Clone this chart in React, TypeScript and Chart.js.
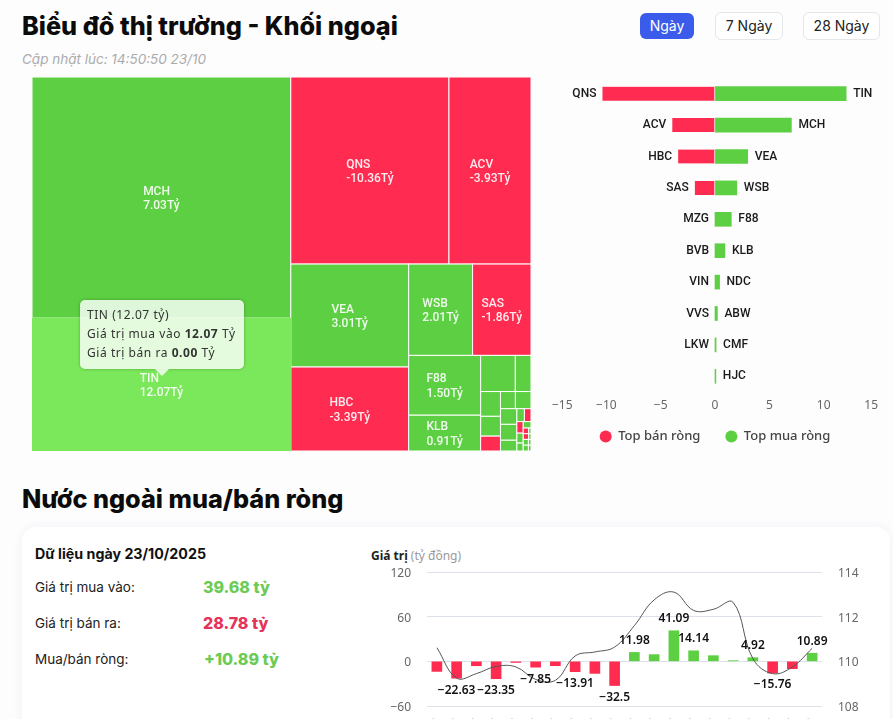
import React, { useEffect, useRef } from "react";
import { Chart, registerables } from "chart.js";

Chart.register(...registerables);

const GREEN = "#5DCF43";
const RED = "#FF2B50";
const HOVER_GREEN = "#7AE85A";

// Treemap: labelled names, displayed net values, and the cell sizes
const cellNames = ["MCH", "TIN", "QNS", "ACV", "VEA", "HBC", "WSB", "SAS", "F88", "KLB"];
const cellNet = [
  7.03, 12.07, -10.36, -3.93, 3.01, -3.39, 2.01, -1.86, 1.5, 0.91,
  0.45, 0.3, 0.27, 0.24, -0.2, 0.18, 0.17, 0.16, 0.15, 0.12,
  0.1, -0.1, -0.09, 0.08, 0.07, 0.06, -0.06, 0.03, -0.05, 0.03, 0.03, 0.02, 0.03, 0.02,
];
const cellSizes = [
  62.2, 34.3, 29.5, 15.3, 12.1, 9.87, 5.82, 5.32, 4.29, 2.57,
  1.25, 0.565, 0.49, 0.392, 0.294, 0.255, 0.267, 0.256, 0.26, 0.176,
  0.097, 0.085, 0.073, 0.063, 0.05, 0.05, 0.031, 0.013, 0.031, 0.013, 0.03, 0.015, 0.03, 0.015,
];
// How many cells each strip of the treemap holds, and how it is laid: c = column, r = row
const stripCounts = [2, 2, 2, 2, 2, 2, 3, 2, 3, 2, 3, 1, 2, 2, 2, 2];
const stripKinds = ["c", "r", "c", "r", "c", "r", "c", "r", "c", "r", "c", "r", "r", "r", "r", "r"];
const hoveredCell = "TIN";

// Butterfly bars
const sellNames = ["QNS", "ACV", "HBC", "SAS", "MZG", "BVB", "VIN", "VVS", "LKW", ""];
const sellValues = [-10.36, -3.93, -3.39, -1.86, 0, 0, 0, 0, 0, 0];
const buyNames = ["TIN", "MCH", "VEA", "WSB", "F88", "KLB", "NDC", "ABW", "CMF", "HJC"];
const buyValues = [12.07, 7.03, 3.01, 2.01, 1.5, 0.91, 0.42, 0.22, 0.1, 0.08];

// Net buy/sell over time
const days = [
  "26/09", "29/09", "30/09", "01/10", "02/10", "03/10", "06/10", "07/10", "08/10", "09/10",
  "10/10", "13/10", "14/10", "15/10", "16/10", "17/10", "20/10", "21/10", "22/10", "23/10",
];
const netValues = [
  -13.5, -22.63, -5.9, -23.35, -1.5, -7.85, -5.8, -13.91, -16.2, -32.5,
  11.98, 9, 41.09, 14.14, 7.6, 0.9, 4.92, -15.76, -9.9, 10.89,
];
const netLabelled = [
  false, true, false, true, false, true, false, true, false, true,
  true, false, true, true, false, false, true, true, false, true,
];
const indexValues = [
  110.61, 109.25, 109.45, 109.77, 109.75, 109.19, 109.15, 110.24, 110.42, 110.64,
  111.6, 112.75, 113.1, 112.28, 112.33, 112.64, 110.12, 109.45, 109.75, 110.58,
];

function layoutCells() {
  let x0 = 0, y0 = 0, x1 = 1, y1 = 1;
  const total = cellSizes.reduce((a, b) => a + b, 0);
  let remaining = total;
  let i = 0;
  const out: any[] = [];
  stripCounts.forEach((count, s) => {
    const slice = cellSizes.slice(i, i + count);
    const sum = slice.reduce((a, b) => a + b, 0);
    const frac = sum / remaining;
    if (stripKinds[s] === "c") {
      const xe = x0 + (x1 - x0) * frac;
      let y = y0;
      slice.forEach((v, k) => {
        const ye = y + (y1 - y0) * (v / sum);
        out.push({ x: x0, y, xe, ye, idx: i + k });
        y = ye;
      });
      x0 = xe;
    } else {
      const ye = y0 + (y1 - y0) * frac;
      let x = x0;
      slice.forEach((v, k) => {
        const xe = x + (x1 - x0) * (v / sum);
        out.push({ x, y: y0, xe, ye, idx: i + k });
        x = xe;
      });
      y0 = ye;
    }
    remaining -= sum;
    i += count;
  });
  return out;
}

const treemapPlugin = {
  id: "treemapCells",
  afterDatasetsDraw(chart: any) {
    const { ctx, scales } = chart;
    const cells = chart.data.datasets[0].data;
    const sx = scales.x, sy = scales.y;
    ctx.save();
    const sorted = [...cells].sort(
      (a: any, b: any) => (cellNames[a.idx] === hoveredCell ? 1 : 0) - (cellNames[b.idx] === hoveredCell ? 1 : 0),
    );
    sorted.forEach((c: any) => {
      const l = sx.getPixelForValue(c.x), r = sx.getPixelForValue(c.xe);
      const t = sy.getPixelForValue(c.y), b = sy.getPixelForValue(c.ye);
      const hovered = cellNames[c.idx] === hoveredCell;
      const fill = hovered ? HOVER_GREEN : cellNet[c.idx] < 0 ? RED : GREEN;
      ctx.fillStyle = fill;
      ctx.fillRect(l, t, r - l, b - t);
      ctx.lineWidth = 1;
      ctx.strokeStyle = hovered ? HOVER_GREEN : "#ffffff";
      ctx.strokeRect(l, t, r - l, b - t);
    });
    ctx.textBaseline = "middle";
    ctx.textAlign = "left";
    cells.forEach((c: any) => {
      const name = cellNames[c.idx];
      if (!name) return;
      const l = sx.getPixelForValue(c.x), r = sx.getPixelForValue(c.xe);
      const t = sy.getPixelForValue(c.y), b = sy.getPixelForValue(c.ye);
      const second = cellNet[c.idx].toFixed(2) + "Tỷ";
      ctx.font = "500 12px Roboto";
      const w = Math.max(ctx.measureText(name).width, ctx.measureText(second).width);
      const lx = (l + r) / 2 - w / 2;
      const cy = (t + b) / 2;
      ctx.fillStyle = "rgba(255,255,255,0.9)";
      ctx.fillText(name, lx, cy - 6);
      ctx.fillText(second, lx, cy + 8.5);
    });
    ctx.restore();
  },
};

const sideLabelPlugin = {
  id: "sideLabels",
  afterDatasetsDraw(chart: any) {
    const { ctx } = chart;
    ctx.save();
    ctx.font = "500 12px Roboto";
    ctx.fillStyle = "#1a1a1a";
    ctx.textBaseline = "middle";
    const left = chart.getDatasetMeta(0).data;
    const right = chart.getDatasetMeta(1).data;
    ctx.textAlign = "right";
    left.forEach((el: any, i: number) => ctx.fillText(sellNames[i], el.x - 6, el.y));
    ctx.textAlign = "left";
    right.forEach((el: any, i: number) => ctx.fillText(buyNames[i], el.x + 7, el.y));
    ctx.restore();
  },
};

const barValuePlugin = {
  id: "barValues",
  afterDatasetsDraw(chart: any) {
    const { ctx } = chart;
    ctx.save();
    ctx.font = "600 12px 'Noto Sans'";
    ctx.fillStyle = "#111";
    ctx.textAlign = "center";
    ctx.textBaseline = "middle";
    chart.getDatasetMeta(1).data.forEach((el: any, i: number) => {
      if (!netLabelled[i]) return;
      const v = netValues[i];
      const text = String(v).replace("-", "−");
      ctx.fillText(text, el.x, el.y + (v < 0 ? 12 : -12));
    });
    ctx.restore();
  },
};

const minus = (v: any) => String(v).replace("-", "−");
const tickFont = { family: "'Noto Sans'", size: 12 };
const noScalePadding = (s: any) => {
  s.paddingTop = 0;
  s.paddingBottom = 0;
  s.paddingLeft = 0;
  s.paddingRight = 0;
};

export default function App() {
  const treeRef = useRef<HTMLCanvasElement>(null);
  const barRef = useRef<HTMLCanvasElement>(null);
  const netRef = useRef<HTMLCanvasElement>(null);

  useEffect(() => {
    const tree = new Chart(treeRef.current!, {
      type: "scatter",
      data: { datasets: [{ data: layoutCells(), pointRadius: 0 }] },
      options: {
        responsive: false,
        animation: false,
        layout: { padding: 0 },
        plugins: { legend: { display: false }, tooltip: { enabled: false } },
        scales: {
          x: { type: "linear", min: 0, max: 1, display: false },
          y: { type: "linear", min: 0, max: 1, reverse: true, display: false },
        },
      },
      plugins: [treemapPlugin],
    } as any);

    const bars = new Chart(barRef.current!, {
      type: "bar",
      data: {
        labels: buyNames,
        datasets: [
          {
            label: "Top bán ròng",
            data: sellValues,
            backgroundColor: (c: any) => (c.raw < 0 ? RED : c.raw === undefined ? RED : "rgba(0,0,0,0)"),
            borderColor: "#ffffff",
            borderWidth: (c: any) => (c.raw < 0 ? { right: 1 } : 0),
            borderSkipped: false,
            barThickness: 14,
          },
          { label: "Top mua ròng", data: buyValues, backgroundColor: GREEN, barThickness: 14 },
        ],
      },
      options: {
        indexAxis: "y",
        responsive: false,
        animation: false,
        layout: { padding: { left: 12, right: 12, top: 8, bottom: 0 } },
        plugins: {
          tooltip: { enabled: false },
          legend: {
            position: "bottom",
            labels: {
              usePointStyle: true,
              pointStyle: "circle",
              boxWidth: 12,
              boxHeight: 8.5,
              padding: 25,
              color: "#444",
              generateLabels: (chart: any) =>
                chart.data.datasets.map((d: any, i: number) => ({
                  text: d.label,
                  fillStyle: i === 0 ? RED : GREEN,
                  strokeStyle: i === 0 ? RED : GREEN,
                  lineWidth: 0,
                  pointStyle: "circle",
                  datasetIndex: i,
                  fontColor: "#444",
                })),
              font: { family: "'Noto Sans'", size: 13, weight: "500" },
            },
          },
        },
        scales: {
          x: {
            stacked: true,
            min: -15,
            max: 15,
            border: { display: false },
            afterFit: (s: any) => {
              s.height = 13;
              s._computeLabelArea = () => undefined;
            },
            grid: { display: false, drawTicks: false },
            ticks: {
              stepSize: 5,
              align: "inner",
              maxRotation: 0,
              padding: 6,
              color: "#666",
              font: tickFont,
              callback: minus,
            },
          },
          y: { stacked: true, display: false },
        },
      },
      plugins: [sideLabelPlugin],
    } as any);

    const net = new Chart(netRef.current!, {
      type: "bar",
      data: {
        labels: days,
        datasets: [
          {
            type: "line",
            data: indexValues,
            yAxisID: "y1",
            borderColor: "#555",
            borderWidth: 1,
            pointRadius: 0,
            tension: 0.4,
            order: 0,
          },
          {
            type: "bar",
            data: netValues,
            yAxisID: "y",
            backgroundColor: netValues.map((v) => (v < 0 ? RED : GREEN)),
            barThickness: 10,
            order: 1,
          },
        ],
      },
      options: {
        responsive: false,
        animation: false,
        layout: { padding: { top: 12, left: 0, right: 0, bottom: 0 } },
        plugins: { legend: { display: false }, tooltip: { enabled: false } },
        scales: {
          x: {
            border: { display: false },
            grid: { display: false, drawTicks: false },
            afterFit: (s: any) => { s.height = 40; noScalePadding(s); },
            ticks: {
              autoSkip: false,
              minRotation: 45,
              maxRotation: 45,
              padding: 10,
              color: "#333",
              font: { family: "'Noto Sans'", size: 11 },
            },
          },
          y: {
            position: "left",
            min: -60,
            max: 120,
            border: { display: false },
            afterFit: (s: any) => { s.width = 47; noScalePadding(s); },
            grid: { color: "#DDE2EA", drawTicks: false },
            ticks: { stepSize: 60, padding: 16, labelOffset: 1.5, color: "#666", font: tickFont, callback: minus },
          },
          y1: {
            position: "right",
            min: 108,
            max: 114,
            border: { display: false },
            afterFit: (s: any) => { s.width = 48; noScalePadding(s); },
            grid: { display: false, drawTicks: false },
            ticks: { stepSize: 2, padding: 16, labelOffset: 1.5, color: "#666", font: tickFont },
          },
        },
      },
      plugins: [barValuePlugin],
    } as any);

    return () => {
      tree.destroy();
      bars.destroy();
      net.destroy();
    };
  }, []);

  const inter = "Inter, sans-serif";
  const abs = (x: number, y: number, extra: any = {}) => ({ position: "absolute", left: x, top: y, ...extra } as any);
  const btn = (x: number, w: number, active: boolean) =>
    abs(x, active ? 13 : 12, {
      width: w,
      height: active ? 26 : 28,
      lineHeight: "26px",
      boxSizing: active ? "content-box" : "border-box",
      textAlign: "center",
      fontFamily: inter,
      fontSize: 14,
      borderRadius: 6,
      background: active ? "#3B5CEB" : "#fff",
      color: active ? "#fff" : "#222",
      border: active ? "none" : "1px solid #E4E6EA",
    });
  const row = (y: number, label: string, value: string, color: string, vx = 203) => (
    <>
      <div style={abs(35, y - 10, { fontFamily: inter, fontSize: 13.5, color: "#222", lineHeight: "20px" })}>{label}</div>
      <div style={abs(vx, y - 11, { fontFamily: inter, fontSize: 16, fontWeight: 800, color, lineHeight: "22px" })}>{value}</div>
    </>
  );
  const heading = { fontFamily: inter, fontSize: 25.25, fontWeight: 800, color: "#0b0b0b", lineHeight: "34px", whiteSpace: "nowrap" };

  return (
    <div style={abs(0, 0, { width: 893, height: 719, overflow: "hidden", background: "#FDFDFE" })}>
      <div style={abs(22, 9, heading)}>Biểu đồ thị trường - Khối ngoại</div>
      <div style={abs(22, 50, { fontFamily: inter, fontSize: 13.5, fontStyle: "italic", color: "#ABABAB", lineHeight: "18px" })}>
        Cập nhật lúc: 14:50:50 23/10
      </div>
      <div style={btn(640, 54, true)}>Ngày</div>
      <div style={btn(715, 68, false)}>7 Ngày</div>
      <div style={btn(803, 77, false)}>28 Ngày</div>

      <canvas ref={treeRef} width={499} height={374} style={abs(32, 77, { display: "block" })} />

      <div
        style={abs(80, 300, {
          width: 164,
          height: 69,
          boxSizing: "border-box",
          padding: "5px 7px",
          background: "rgba(255,255,255,0.8)",
          borderRadius: 5,
          boxShadow: "0 0 3px rgba(0,0,0,0.3)",
          fontFamily: "'Noto Sans'",
          fontSize: 12,
          letterSpacing: 0.55,
          lineHeight: "19px",
          color: "#333",
          whiteSpace: "nowrap",
        })}
      >
        <div>TIN (12.07 tỷ)</div>
        <div>Giá trị mua vào <b>12.07</b> Tỷ</div>
        <div>Giá trị bán ra <b>0.00</b> Tỷ</div>
      </div>
      <div
        style={abs(155, 369, {
          width: 0,
          height: 0,
          borderLeft: "7px solid transparent",
          borderRight: "7px solid transparent",
          borderTop: "7px solid rgba(255,255,255,0.8)",
        })}
      />

      <canvas ref={barRef} width={350} height={383} style={abs(540, 70, { display: "block" })} />

      <div style={abs(22, 482, heading)}>Nước ngoài mua/bán ròng</div>

      <div style={abs(22, 527, { width: 868, height: 260, background: "#fff", borderRadius: 14, boxShadow: "0 0 12px rgba(30,50,90,0.06)" })} />
      <div style={abs(35, 545, { fontFamily: inter, fontSize: 14.25, fontWeight: 700, color: "#111", lineHeight: "18px" })}>
        Dữ liệu ngày 23/10/2025
      </div>
      {row(587, "Giá trị mua vào:", "39.68 tỷ", "#6CCB55")}
      {row(623, "Giá trị bán ra:", "28.78 tỷ", "#E5345A")}
      {row(659, "Mua/bán ròng:", "+10.89 tỷ", "#6CCB55", 204)}

      <div style={abs(371, 547, { fontFamily: "'Noto Sans'", fontSize: 12, lineHeight: "18px", color: "#999", whiteSpace: "nowrap" })}>
        <b style={{ color: "#222" }}>Giá trị</b> (tỷ đồng)
      </div>
      <canvas ref={netRef} width={490} height={186} style={abs(380, 560, { display: "block" })} />
    </div>
  );
}
